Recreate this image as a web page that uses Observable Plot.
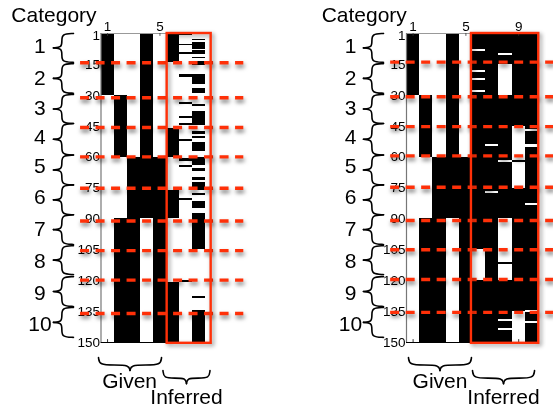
<!DOCTYPE html>
<html><head><meta charset="utf-8">
<style>
html,body{margin:0;padding:0;background:#fff}
#wrap{position:relative;width:553px;height:408px;overflow:hidden}
#wrap svg{position:absolute;top:0;overflow:visible;filter:blur(.35px)}
</style>
<script src="https://cdn.jsdelivr.net/npm/d3@7"></script>
<script src="https://cdn.jsdelivr.net/npm/@observablehq/plot@0.6"></script>
</head><body><div id="wrap"></div>
<script>
const categories = ["1","2","3","4","5","6","7","8","9","10"];
const categoryLabelRows = [6.1,21.5,36.5,50.3,64.4,79.6,94.8,110.7,125.9,141.2];
const categoryBraceRows = [[0,14],[14.6,29],[29.6,43.7],[43.7,59],[59,73.5],[73.5,88],[88,102.4],[103,117],[118,132.5],[133,147.5]];
const rowTicks = [1,15,30,45,60,75,90,105,120,135,150];
const dashRowsLeft = [14.2,31.2,45.6,59.9,75.1,91,105.4,119.7,135.9];
const dashRowsRight = [13.9,30.7,45.2,59.4,74.6,90.8,105,119.4,135.4];

// Given columns: black row ranges, same in both panels
const given = [
  {col:1, rows:[[0,30]]},
  {col:2, rows:[[30,60],[90,150]]},
  {col:3, rows:[[60,150]]},
  {col:4, rows:[[0,90]]},
  {col:5, rows:[[60,150]]}
];
// Left panel, inferred: black row ranges
const inferredLeftBlack = [
  {col:6, rows:[[0,14],[46,60],[76,90],[121,150]]},
  {col:7, rows:[[0,1],[5.1,6],[9.3,10.2],[20,21.5],[33.6,34.5],[40.1,41.1],[43.8,44.8],[51.5,52.5],[60.5,62],[64,65],[80,81],[120,121]]},
  {col:8, rows:[[2.7,3.5],[4.5,7.6],[8.4,10.2],[11.5,12.3],[13.4,15.5],[19.8,24.9],[26.5,29],[34.3,35.4],[37.9,44.7],[47.6,49],[50.2,51.1],[52.8,57.3],[60.2,64.2],[65.4,66.8],[69.8,71.5],[72.5,76.2],[77.5,78.6],[81.7,85],[87.5,104.9],[127.5,128.5],[134.5,150]]}
];
// Right panel, inferred: white row ranges on a black block
const inferredRightWhite = [
  {col:6, rows:[[7.6,8.6],[17.8,18.8],[21.8,22.8],[27.8,28.8],[105,120]]},
  {col:7, rows:[[53.7,54.7],[76.6,77.6]]},
  {col:8, rows:[[9.6,10.6],[15,30],[61.8,62.6],[90,111],[112.2,120],[138.7,140],[143,144.4]]},
  {col:9, rows:[[45,61.6],[62.8,75],[135,150]]},
  {col:10, rows:[[46.8,47.6],[54,55.5],[82.5,83.5],[134.6,135.4],[139.8,141]]}
];
const inferredRightSpan = [[6,10]];

const red = "#ff3008";
const flatten = list => list.flatMap(d => d.rows.map(([a,b]) => ({col:d.col, a, b})));
const bars = (list, fill) => Plot.rect(flatten(list), {x1:d=>d.col-.5, x2:d=>d.col+.5, y1:"a", y2:"b", fill, shapeRendering:"crispEdges"});

// Half-brace outline, in scale units, built from a range and a tip and end position
const profile = [[1,0],[1,0],[1,0],[.42,.03],[.42,.5],[.42,.97],[0,1],[0,1],[0,1]];
function brace(id, from, to, tip, end, vertical) {
  const mid = (from+to)/2, pts = [];
  for (const [edge, part] of [[from,0],[to,1]]) for (const [d,t] of profile) {
    const along = edge+(mid-edge)*t, across = tip+(end-tip)*d;
    pts.push(vertical ? {u:across, v:along, id:id+"-"+part} : {u:along, v:across, id:id+"-"+part});
  }
  return pts;
}

function panel(cfg) {
  const braces = categories.flatMap((c,i) => brace(c, categoryBraceRows[i][0], categoryBraceRows[i][1], cfg.braceTip, cfg.braceEnd, true))
    .concat(brace("g", cfg.givenFrom, cfg.givenTo, 163.6, 157.3, false), brace("i", cfg.infFrom, cfg.infTo, 170, 163.6, false));
  const plot = Plot.plot({
    width: cfg.width, height: 408,
    marginLeft: cfg.marginLeft, marginRight: cfg.width-cfg.marginLeft-10*cfg.step, marginTop: 33, marginBottom: 66,
    style: {fontFamily: '"Liberation Sans", sans-serif', background: "transparent", overflow: "visible"},
    x: {domain:[.5,10.5]},
    y: {domain:[0,150], reverse:true},
    marks: [
      cfg.background,
      bars(given, "#000"),
      cfg.inferred,
      Plot.ruleY([0], {x1:.5, x2:5.55, stroke:"#999", strokeWidth:1}),
      Plot.ruleX([.5], {y1:0, y2:150, stroke:"#777", strokeWidth:1.2}),
      Plot.ruleY([150], {x1:.5, x2:5.55, stroke:"#000", strokeWidth:1}),
      Plot.ruleX(cfg.xTicks, {x:d=>d, y1:0, y2:1.4, stroke:"#333", strokeWidth:.8}),
      Plot.ruleX(cfg.xTicks, {x:d=>d, y1:148.6, y2:150, stroke:"#000", strokeWidth:.8}),
      Plot.axisX({anchor:"top", ticks:cfg.xTicks, tickSize:0, tickPadding:3, fontSize:13.5, label:null, tickFormat:d=>d}),
      Plot.axisY({anchor:"left", ticks:rowTicks, tickSize:0, tickPadding:1, fontSize:13.5, label:null, tickFormat:d=>d}),
      Plot.line(braces, {x:"u", y:"v", z:"id", curve:"basis", stroke:"#000", strokeWidth:1.6}),
      Plot.text(["Category"], {x:cfg.categoryX, y:-8.7, text:d=>d, fontSize:21, fill:"#000"}),
      Plot.text(categories, {x:cfg.numberX, y:(d,i)=>categoryLabelRows[i], text:d=>d, fontSize:21, fill:"#000"}),
      Plot.text(["Given"], {x:cfg.givenX, y:169, text:d=>d, fontSize:21, fill:"#000"}),
      Plot.text(["Inferred"], {x:cfg.infX, y:176.8, text:d=>d, fontSize:21, fill:"#000"}),
      Plot.ruleY(cfg.dashRows, {x1:cfg.dashFrom, x2:cfg.dashTo, stroke:red, strokeWidth:3.4, strokeDasharray:"9 6.5", imageFilter:"drop-shadow(1px 3px 2px rgba(0,0,0,.55))"}),
      Plot.rect([0], {x1:cfg.boxFrom, x2:cfg.boxTo, y1:0, y2:150.4, fill:"none", stroke:red, strokeWidth:2.4, imageFilter:"drop-shadow(2px 2px 2px rgba(0,0,0,.45))"})
    ]
  });
  plot.style.left = cfg.left+"px";
  document.getElementById("wrap").append(plot);
}

panel({left:0, width:305, marginLeft:100.5, step:13.1,
  background:null, inferred:bars(inferredLeftBlack,"#000"),
  xTicks:[1,5], dashRows:dashRowsLeft, dashFrom:-1.06, dashTo:11.4,
  categoryX:-3.09, numberX:-4.16, braceTip:-3.13, braceEnd:-1.6,
  givenFrom:.31, givenTo:5.12, infFrom:5.23, infTo:8.82, givenX:2.68, infX:7.03, boxFrom:5.55, boxTo:8.91});

panel({left:305, width:248, marginLeft:101, step:13.2,
  background:Plot.rect(inferredRightSpan, {x1:d=>d[0]-.5, x2:d=>d[1]+.5, y1:0, y2:150, fill:"#000"}),
  inferred:bars(inferredRightWhite,"#fff"),
  xTicks:[1,5,9], dashRows:dashRowsRight, dashFrom:-.7, dashTo:11.7,
  categoryX:-2.7, numberX:-3.74, braceTip:-2.76, braceEnd:-1.24,
  givenFrom:.65, givenTo:5.42, infFrom:5.5, infTo:10.2, givenX:3.04, infX:7.85, boxFrom:5.42, boxTo:10.52});
</script></body></html>
